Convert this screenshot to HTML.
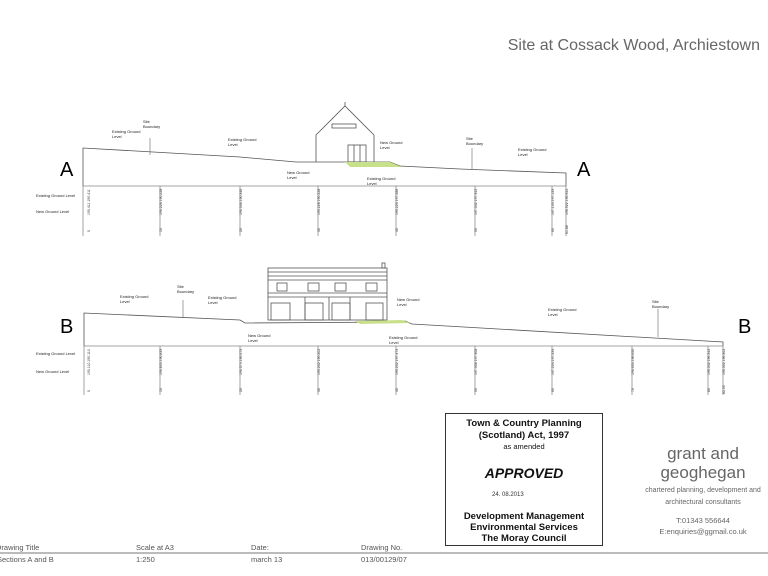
<!DOCTYPE html>
<html><head><meta charset="utf-8"><style>
html,body{margin:0;padding:0;background:#fff;}
svg{display:block}
.s{font-family:"Liberation Sans",sans-serif;}
</style></head><body>
<svg width="768" height="576" viewBox="0 0 768 576" xmlns="http://www.w3.org/2000/svg" class="s">
<text x="760" y="50" font-size="16" fill="#666" text-anchor="end">Site at Cossack Wood, Archiestown</text>

<!-- Section A -->
<text x="60" y="176" font-size="20" fill="#000">A</text>
<text x="577" y="176" font-size="20" fill="#000">A</text>
<g stroke="#555" stroke-width="0.8" fill="none">
<polyline points="83,186 83,148 240,157 296,162 390,162 400,166 460,169 566,173 566,186"/>
<line x1="83" y1="186" x2="566" y2="186" stroke="#888"/>
<polyline points="316,162 316,135 345,106 374,135 374,162"/>
<line x1="345" y1="106" x2="345" y2="102"/>
<rect x="332" y="124" width="24" height="4"/>
<rect x="348" y="145" width="18" height="17"/>
<line x1="354" y1="145" x2="354" y2="162"/><line x1="360" y1="145" x2="360" y2="162"/>
</g>
<polygon points="345,162 390,162 402,167 350,167" fill="#c8e08a"/>
<g stroke="#666" stroke-width="0.6">
<line x1="83" y1="186" x2="83" y2="236"/><line x1="160" y1="186" x2="160" y2="236"/>
<line x1="240" y1="186" x2="240" y2="236"/><line x1="318" y1="186" x2="318" y2="236"/>
<line x1="396" y1="186" x2="396" y2="236"/><line x1="475" y1="186" x2="475" y2="236"/>
<line x1="552" y1="186" x2="552" y2="236"/><line x1="566" y1="186" x2="566" y2="236"/>
<line x1="150" y1="138" x2="150" y2="155"/><line x1="472" y1="148" x2="472" y2="169"/>
</g>
<g font-size="4" fill="#222">
<text x="112" y="133">Existing Ground</text><text x="112" y="138">Level</text>
<text x="143" y="123">Site</text><text x="143" y="128">Boundary</text>
<text x="228" y="141">Existing Ground</text><text x="228" y="146">Level</text>
<text x="287" y="174">New Ground</text><text x="287" y="179">Level</text>
<text x="380" y="144">New Ground</text><text x="380" y="149">Level</text>
<text x="367" y="180">Existing Ground</text><text x="367" y="185">Level</text>
<text x="466" y="140">Site</text><text x="466" y="145">Boundary</text>
<text x="518" y="151">Existing Ground</text><text x="518" y="156">Level</text>
<text x="36" y="197">Existing Ground Level</text>
<text x="36" y="213">New Ground Level</text>
</g>
<g font-size="3.5" fill="#333">
<text transform="translate(90,215) rotate(-90)">190.411 190.411</text>
<text transform="translate(162,215) rotate(-90)">190.228 190.228</text>
<text transform="translate(242,215) rotate(-90)">190.346 190.346</text>
<text transform="translate(320,215) rotate(-90)">190.228 190.228</text>
<text transform="translate(398,215) rotate(-90)">190.226 197.588</text>
<text transform="translate(477,215) rotate(-90)">197.342 197.342</text>
<text transform="translate(554,215) rotate(-90)">197.133 197.133</text>
<text transform="translate(568,215) rotate(-90)">196.922 196.922</text>
<text transform="translate(90,232) rotate(-90)">0</text>
<text transform="translate(162,232) rotate(-90)">10</text>
<text transform="translate(242,232) rotate(-90)">20</text>
<text transform="translate(320,232) rotate(-90)">30</text>
<text transform="translate(398,232) rotate(-90)">40</text>
<text transform="translate(477,232) rotate(-90)">50</text>
<text transform="translate(554,232) rotate(-90)">60</text>
<text transform="translate(568,234) rotate(-90)">61.88</text>
</g>

<!-- Section B -->
<text x="60" y="333" font-size="20" fill="#000">B</text>
<text x="738" y="333" font-size="20" fill="#000">B</text>
<g stroke="#555" stroke-width="0.8" fill="none">
<polyline points="84,346 84,313 240,320 245,323 400,322 405,321 412,324 723,342 723,346"/>
<line x1="84" y1="346" x2="723" y2="346" stroke="#888"/>
<rect x="268" y="268" width="119" height="52"/>
<line x1="268" y1="272" x2="387" y2="272"/><line x1="268" y1="276" x2="387" y2="276"/>
<line x1="268" y1="280" x2="387" y2="280"/><line x1="268" y1="293" x2="387" y2="293"/>
<line x1="268" y1="297" x2="387" y2="297"/>
<rect x="382" y="263" width="3" height="5"/>
<rect x="277" y="283" width="10" height="8"/><rect x="308" y="283" width="11" height="8"/>
<rect x="335" y="283" width="11" height="8"/><rect x="366" y="283" width="11" height="8"/>
<rect x="271" y="303" width="19" height="17"/><rect x="305" y="303" width="18" height="17"/>
<rect x="332" y="303" width="18" height="17"/><rect x="366" y="303" width="17" height="17"/>
<line x1="305" y1="297" x2="305" y2="320"/><line x1="329" y1="297" x2="329" y2="320"/>
<line x1="350" y1="297" x2="350" y2="320"/>
</g>
<polygon points="355,321 402,320 410,323 360,324" fill="#c8e08a"/>
<g stroke="#666" stroke-width="0.6">
<line x1="84" y1="346" x2="84" y2="395"/><line x1="160" y1="346" x2="160" y2="395"/>
<line x1="240" y1="346" x2="240" y2="395"/><line x1="318" y1="346" x2="318" y2="395"/>
<line x1="396" y1="346" x2="396" y2="395"/><line x1="475" y1="346" x2="475" y2="395"/>
<line x1="552" y1="346" x2="552" y2="395"/><line x1="632" y1="346" x2="632" y2="395"/>
<line x1="708" y1="346" x2="708" y2="395"/><line x1="723" y1="346" x2="723" y2="395"/>
<line x1="183" y1="300" x2="183" y2="318"/><line x1="658" y1="309" x2="658" y2="337"/>
</g>
<g font-size="4" fill="#222">
<text x="120" y="298">Existing Ground</text><text x="120" y="303">Level</text>
<text x="177" y="288">Site</text><text x="177" y="293">Boundary</text>
<text x="208" y="299">Existing Ground</text><text x="208" y="304">Level</text>
<text x="248" y="337">New Ground</text><text x="248" y="342">Level</text>
<text x="397" y="301">New Ground</text><text x="397" y="306">Level</text>
<text x="389" y="339">Existing Ground</text><text x="389" y="344">Level</text>
<text x="548" y="311">Existing Ground</text><text x="548" y="316">Level</text>
<text x="652" y="303">Site</text><text x="652" y="308">Boundary</text>
<text x="36" y="355">Existing Ground Level</text>
<text x="36" y="373">New Ground Level</text>
</g>
<g font-size="3.5" fill="#333">
<text transform="translate(90,375) rotate(-90)">190.110 190.110</text>
<text transform="translate(162,375) rotate(-90)">190.833 190.833</text>
<text transform="translate(242,375) rotate(-90)">190.574 190.574</text>
<text transform="translate(320,375) rotate(-90)">190.202 190.202</text>
<text transform="translate(398,375) rotate(-90)">190.202 197.474</text>
<text transform="translate(477,375) rotate(-90)">197.308 197.308</text>
<text transform="translate(554,375) rotate(-90)">197.234 197.234</text>
<text transform="translate(634,375) rotate(-90)">196.650 196.650</text>
<text transform="translate(710,375) rotate(-90)">196.342 196.342</text>
<text transform="translate(725,375) rotate(-90)">196.302 196.302</text>
<text transform="translate(90,392) rotate(-90)">0</text>
<text transform="translate(162,392) rotate(-90)">10</text>
<text transform="translate(242,392) rotate(-90)">20</text>
<text transform="translate(320,392) rotate(-90)">30</text>
<text transform="translate(398,392) rotate(-90)">40</text>
<text transform="translate(477,392) rotate(-90)">50</text>
<text transform="translate(554,392) rotate(-90)">60</text>
<text transform="translate(634,392) rotate(-90)">70</text>
<text transform="translate(710,392) rotate(-90)">80</text>
<text transform="translate(725,394) rotate(-90)">82.55</text>
</g>

<!-- Approval box -->
<rect x="445.5" y="413.5" width="157" height="132" fill="#fff" stroke="#333" stroke-width="1"/>
<g fill="#111" text-anchor="middle" font-weight="bold">
<text x="524" y="426" font-size="9.5">Town &amp; Country Planning</text>
<text x="524" y="438" font-size="9.5">(Scotland) Act, 1997</text>
<text x="524" y="449" font-size="7.5" font-weight="normal">as amended</text>
<text x="524" y="478" font-size="14" font-style="italic">APPROVED</text>
<text x="524" y="519" font-size="9.5">Development Management</text>
<text x="524" y="530" font-size="9.5">Environmental Services</text>
<text x="524" y="541" font-size="9.5">The Moray Council</text>
</g>
<text x="492" y="496" font-size="6" fill="#333">24. 08.2013</text>

<!-- Company -->
<g fill="#666" text-anchor="middle">
<text x="703" y="459" font-size="17">grant and</text>
<text x="703" y="478" font-size="17">geoghegan</text>
<text x="703" y="492" font-size="7">chartered planning, development and</text>
<text x="703" y="504" font-size="7">architectural consultants</text>
<text x="703" y="523" font-size="7.5">T:01343 556644</text>
<text x="703" y="534" font-size="7.5">E:enquiries@ggmail.co.uk</text>
</g>

<!-- Title block -->
<line x1="0" y1="553" x2="768" y2="553" stroke="#777" stroke-width="1"/>
<g fill="#555" font-size="7.5">
<text x="-4" y="550">Drawing Title</text>
<text x="136" y="550">Scale at A3</text>
<text x="251" y="550">Date:</text>
<text x="361" y="550">Drawing No.</text>
<text x="-3" y="562">Sections A and B</text>
<text x="136" y="562">1:250</text>
<text x="251" y="562">march 13</text>
<text x="361" y="562">013/00129/07</text>
</g>
</svg>
</body></html>
